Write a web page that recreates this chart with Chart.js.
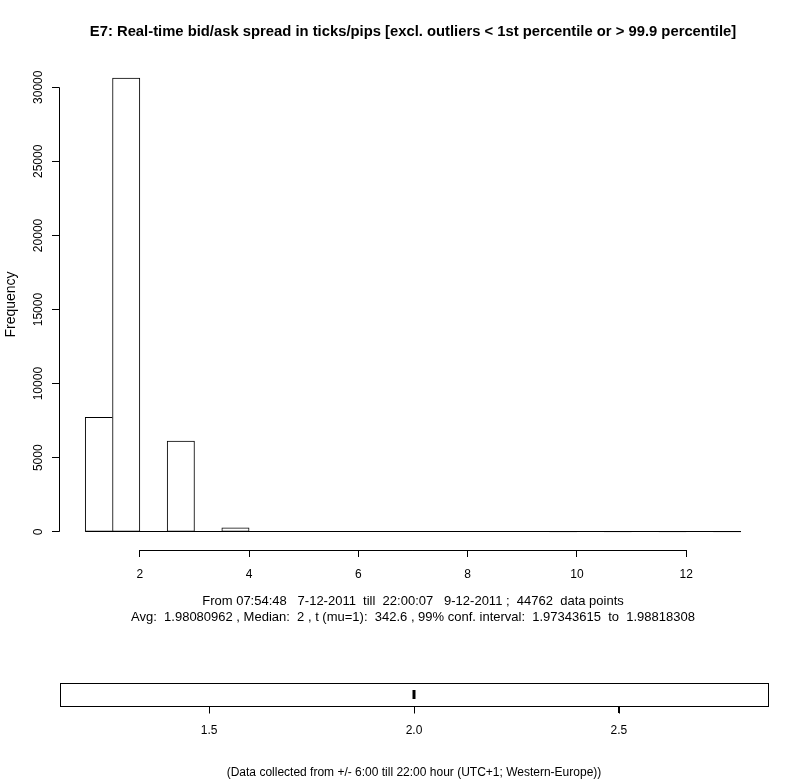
<!DOCTYPE html>
<html>
<head>
<meta charset="utf-8">
<script src="https://cdn.jsdelivr.net/npm/chart.js@4.4.1/dist/chart.umd.min.js"></script>
<style>
  html, body { margin: 0; padding: 0; background: #ffffff; }
  #wrap { position: relative; width: 800px; height: 780px; background: #ffffff; }
  #c1 { position: absolute; left: 0; top: 0; }
  #c2 { position: absolute; left: 0; top: 640px; }
</style>
</head>
<body>
<div id="wrap">
  <canvas id="c1" width="800" height="640"></canvas>
  <canvas id="c2" width="800" height="140"></canvas>
</div>
<script>
// ---- data ----
const breaks = [1, 1.5, 2, 2.5, 3, 3.5, 4, 4.5, 5, 5.5, 6, 6.5, 7, 7.5, 8, 8.5, 9, 9.5, 10, 10.5, 11, 11.5, 12, 12.5, 13];
const counts = [7720, 30620, 0, 6120, 0, 270, 0, 14, 0, 6, 0, 4, 0, 2, 0, 2, 0, 1, 0, 1, 0, 1, 0, 1];
const xTicks = [2, 4, 6, 8, 10, 12];
const yTicks = [0, 5000, 10000, 15000, 20000, 25000, 30000];
const boxMedian = 2;
const boxTicks = [1.5, 2.0, 2.5];
const boxTickLabels = ['1.5', '2.0', '2.5'];

const titleText = 'E7: Real-time bid/ask spread in ticks/pips [excl. outliers < 1st percentile or > 99.9 percentile]';
const subLines = [
  'From 07:54:48   7-12-2011  till  22:00:07   9-12-2011 ;  44762  data points',
  'Avg:  1.98080962 , Median:  2 , t (mu=1):  342.6 , 99% conf. interval:  1.97343615  to  1.98818308'
];
const footerText = '(Data collected from +/- 6:00 till 22:00 hour (UTC+1; Western-Europe))';

const FONT = "'Liberation Sans', Arial, sans-serif";
Chart.defaults.font.family = FONT;
Chart.defaults.color = '#000000';

const histData = counts.map((c, i) => ({ x: (breaks[i] + breaks[i + 1]) / 2, y: c }));

function bw(ctx) {
  const i = ctx.dataIndex;
  const cur = counts[i];
  const prev = i > 0 ? counts[i - 1] : 0;
  const next = i < counts.length - 1 ? counts[i + 1] : 0;
  return { top: 1, bottom: 1, left: prev <= cur ? 1 : 0, right: next < cur ? 1 : 0 };
}

const rAxes = {
  id: 'rAxes',
  afterDatasetsDraw(chart) {
    const { ctx, scales: { x, y }, chartArea } = chart;
    ctx.save();
    ctx.strokeStyle = '#000';
    ctx.lineWidth = 1;
    // histogram baseline (bar bottoms)
    const by = Math.round(y.getPixelForValue(0)) - 0.5;
    ctx.beginPath();
    ctx.moveTo(x.getPixelForValue(breaks[0]), by);
    ctx.lineTo(x.getPixelForValue(breaks[breaks.length - 1]), by);
    ctx.stroke();
    // y axis line
    const ax = Math.round(chartArea.left) + 0.5;
    ctx.beginPath();
    ctx.moveTo(ax, y.getPixelForValue(yTicks[0]));
    ctx.lineTo(ax, y.getPixelForValue(yTicks[yTicks.length - 1]));
    ctx.stroke();
    // x axis line
    const ay = Math.round(chartArea.bottom) + 0.5;
    ctx.beginPath();
    ctx.moveTo(x.getPixelForValue(xTicks[0]), ay);
    ctx.lineTo(x.getPixelForValue(xTicks[xTicks.length - 1]), ay);
    ctx.stroke();
    ctx.restore();
  }
};

new Chart(document.getElementById('c1'), {
  type: 'bar',
  data: {
    datasets: [{
      data: histData,
      backgroundColor: '#ffffff',
      borderColor: '#000000',
      borderWidth: bw,
      borderSkipped: false,
      barPercentage: 1,
      categoryPercentage: 1
    }]
  },
  options: {
    responsive: false,
    animation: false,
    events: [],
    layout: { padding: { left: 0, right: 33, top: 0, bottom: 0 } },
    plugins: {
      legend: { display: false },
      tooltip: { enabled: false },
      title: {
        display: true,
        text: titleText,
        fullSize: false,
        font: { size: 14.8, weight: 'bold', family: FONT },
        color: '#000',
        padding: { top: 23, bottom: 18.24 }
      }
    },
    scales: {
      x: {
        type: 'linear',
        offset: false,
        min: 0.52,
        max: 13.48,
        afterBuildTicks: s => { s.ticks = xTicks.map(v => ({ value: v })); },
        afterFit: s => { s.height = 90; },
        grid: { display: true, offset: false, drawOnChartArea: false, drawTicks: true, tickLength: 7, color: '#000', lineWidth: 1 },
        border: { display: false },
        ticks: { font: { size: 12 }, color: '#000', padding: 10, maxRotation: 0, minRotation: 0, autoSkip: false,
                 callback: v => String(v) },
        title: {
          display: true,
          text: subLines,
          font: { size: 13, lineHeight: 16 / 13 },
          color: '#000',
          padding: { top: 0, bottom: 15 }
        }
      },
      y: {
        type: 'linear',
        min: -1227,
        max: 31907,
        afterBuildTicks: s => { s.ticks = yTicks.map(v => ({ value: v })); },
        afterFit: s => { s.width = 59; },
        grid: { display: true, drawOnChartArea: false, drawTicks: true, tickLength: 7, color: '#000', lineWidth: 1 },
        border: { display: false },
        ticks: { font: { size: 12 }, color: '#000', minRotation: 90, maxRotation: 90, crossAlign: 'center', padding: -3.5,
                 autoSkip: false, callback: v => String(v) },
        title: {
          display: true,
          text: 'Frequency',
          font: { size: 14 },
          color: '#000',
          padding: { top: 3, bottom: 0 }
        }
      }
    }
  },
  plugins: [rAxes]
});

// ---- box strip ----
const boxFrame = {
  id: 'boxFrame',
  afterDatasetsDraw(chart) {
    const { ctx, chartArea: a, scales: { x } } = chart;
    ctx.save();
    ctx.strokeStyle = '#000';
    ctx.lineWidth = 1;
    ctx.strokeRect(Math.round(a.left) + 0.5, Math.round(a.top) + 0.5, Math.round(a.right - a.left), Math.round(a.bottom - a.top));
    // axis tick marks
    const yb = Math.round(a.bottom) + 0.5;
    boxTicks.forEach(v => {
      const px = Math.round(x.getPixelForValue(v)) + 0.5;
      ctx.beginPath();
      ctx.moveTo(px, yb);
      ctx.lineTo(px, yb + 7);
      ctx.stroke();
    });
    ctx.restore();
  }
};

new Chart(document.getElementById('c2'), {
  type: 'scatter',
  data: {
    datasets: [{
      data: [{ x: boxMedian, y: 0 }],
      pointStyle: 'line',
      rotation: 90,
      radius: 4.5,
      borderWidth: 3,
      borderColor: '#000',
      backgroundColor: '#000'
    }]
  },
  options: {
    responsive: false,
    animation: false,
    events: [],
    layout: { padding: { left: 60, right: 32, top: 43, bottom: 0 } },
    plugins: { legend: { display: false }, tooltip: { enabled: false } },
    scales: {
      x: {
        type: 'linear',
        min: 1.136,
        max: 2.864,
        afterBuildTicks: s => { s.ticks = boxTicks.map(v => ({ value: v })); },
        afterFit: s => { s.height = 74; },
        grid: { display: true, drawOnChartArea: false, drawTicks: true, tickLength: 7, color: '#000', lineWidth: 1 },
        border: { display: false },
        ticks: { font: { size: 12 }, color: '#000', padding: 10, maxRotation: 0, minRotation: 0, autoSkip: false,
                 callback: (v) => boxTickLabels[boxTicks.indexOf(v)] ?? String(v) },
        title: {
          display: true,
          text: footerText,
          font: { size: 12, lineHeight: 14 / 12 },
          color: '#000',
          padding: { top: 0, bottom: 0 }
        }
      },
      y: {
        display: false,
        min: -1,
        max: 1
      }
    }
  },
  plugins: [boxFrame]
});
</script>
</body>
</html>
